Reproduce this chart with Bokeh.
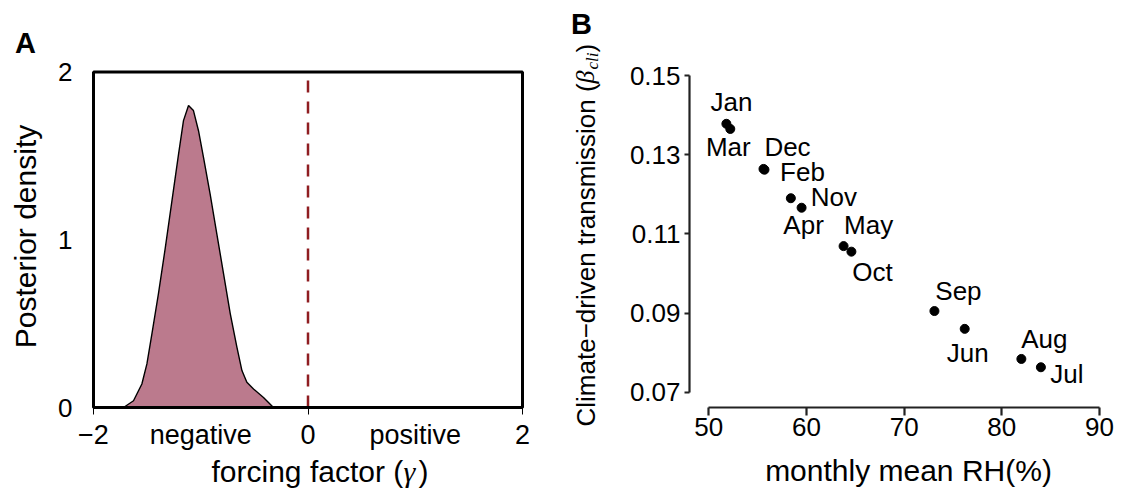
import math
from bokeh.plotting import figure
from bokeh.models import FixedTicker, Label, ColumnDataSource, LinearAxis, BoxAnnotation
from bokeh.layouts import row
from bokeh.embed import file_html
from bokeh.resources import INLINE
from bokeh.core.properties import value

# ---------------- data: panel A (posterior density of forcing factor) ----------------
gamma_x = [-1.72, -1.627, -1.549, -1.502, -1.455, -1.394, -1.331, -1.269, -1.207,
           -1.161, -1.114, -1.068, -1.021, -0.974, -0.912, -0.849, -0.788, -0.725,
           -0.663, -0.616, -0.570, -0.508, -0.415, -0.322]
density = [0.0, 0.04, 0.14, 0.26, 0.44, 0.68, 0.95, 1.23, 1.51, 1.71, 1.80, 1.77,
           1.65, 1.49, 1.27, 1.03, 0.80, 0.56, 0.36, 0.22, 0.15, 0.11, 0.06, 0.0]
a_xticks = [-2, -1, 0, 1, 2]
a_xlabels = ["\u22122", "negative", "0", "positive", "2"]
a_yticks = [0, 1, 2]
a_xlim = (-2, 2)
a_ylim = (0, 2)
ref_gamma = 0

# ---------------- data: panel B (transmission vs humidity) ----------------
months = ["Jan", "Feb", "Mar", "Apr", "May", "Jun", "Jul", "Aug", "Sep", "Oct", "Nov", "Dec"]
rh = [51.8, 55.7, 52.2, 59.5, 63.8, 76.2, 84.0, 82.0, 73.1, 64.6, 58.4, 55.6]
beta = [0.1378, 0.1262, 0.1365, 0.1166, 0.1069, 0.0860, 0.0763, 0.0784, 0.0905,
        0.1055, 0.1190, 0.1264]
b_xticks = [50, 60, 70, 80, 90]
b_yticks = [0.07, 0.09, 0.11, 0.13, 0.15]

# ---------------- layout / style constants ----------------
FONT = "Liberation Sans"
SERIF = "Liberation Serif"
H = 489
WA, WB = 568, 552
label_dx = {"Jan": 5, "Feb": 38, "Mar": -2, "Apr": 2, "May": 25, "Jun": 3,
            "Jul": 26, "Aug": 23, "Sep": 24, "Oct": 21, "Nov": 43, "Dec": 24}
label_dy = {"Jan": -22, "Feb": 2, "Mar": 18, "Apr": 17, "May": -21, "Jun": 24,
            "Jul": 7, "Aug": -20, "Sep": -20, "Oct": 20, "Nov": -1, "Dec": -22}

# panel A: pixel geometry of the box (canvas px)
A_L, A_R, A_T, A_B = 93.0, 522.0, 71.5, 407.0
A_SX = (A_R - A_L) / (a_xlim[1] - a_xlim[0])
A_SY = (A_B - A_T) / (a_ylim[1] - a_ylim[0])
# panel B: pixel geometry (relative to panel B's own canvas starting at WA)
B_X50, B_X90 = 708.3 - WA, 1099.0 - WA
B_Y15, B_Y07 = 75.0, 391.7
B_SX = (B_X90 - B_X50) / 40.0
B_SY = (B_Y07 - B_Y15) / 0.08

def ax(px):
    return a_xlim[0] + (px - A_L) / A_SX

def ay(py):
    return a_ylim[0] + (A_B - py) / A_SY

def bx(px):  # px given in full-page coordinates
    return 50 + (px - WA - B_X50) / B_SX

def by(py):
    return 0.15 - (py - B_Y15) / B_SY

def txt(p, x, y, text, size, font=FONT, style="normal", align="center", angle=0.0):
    p.add_layout(Label(x=x, y=y, text=text, text_font=font, text_font_style=style,
                       text_font_size=size, text_align=align, text_baseline="middle",
                       angle=angle, text_color="black"))

# ================= Panel A =================
pA = figure(width=WA, height=H, x_range=(ax(0), ax(WA)), y_range=(ay(H), ay(0)),
            output_backend="svg", toolbar_location=None, title=None,
            x_axis_location=None, y_axis_location=None, min_border=0)
pA.grid.visible = False
pA.outline_line_color = None
pA.background_fill_color = "white"
pA.border_fill_color = "white"

srcA = ColumnDataSource(dict(x=gamma_x, y=density, z=[0.0] * len(density)))
pA.varea(x="x", y1="z", y2="y", source=srcA, fill_color="#BB7A8D", fill_alpha=1.0)
pA.line(x="x", y="y", source=srcA, line_color="black", line_width=1.4)
pA.segment(x0=[ref_gamma], y0=[a_ylim[0]], x1=[ref_gamma], y1=[a_ylim[1]],
           line_color="#8F1D21", line_width=2.5, line_dash="12 9")
pA.add_layout(BoxAnnotation(left=a_xlim[0], right=a_xlim[1], bottom=a_ylim[0], top=a_ylim[1],
                            fill_alpha=0, line_color="black", line_width=3, line_alpha=1))

xa = LinearAxis(fixed_location=a_ylim[0])
xa.ticker = FixedTicker(ticks=a_xticks, minor_ticks=[-2, 0, 2])
xa.major_label_overrides = {t: l for t, l in zip(a_xticks, a_xlabels)}
xa.axis_line_color = None
xa.major_tick_line_color = None
xa.major_tick_in = 0
xa.major_tick_out = 0
xa.minor_tick_in = 0
xa.minor_tick_out = 7
xa.minor_tick_line_color = "black"
xa.minor_tick_line_width = 1
xa.major_label_standoff = 5
xa.major_label_text_font = FONT
xa.major_label_text_font_size = "27px"
xa.major_label_text_color = "black"
pA.add_layout(xa, "below")

ya = LinearAxis(fixed_location=a_xlim[0])
ya.ticker = FixedTicker(ticks=a_yticks)
ya.axis_line_color = None
ya.major_tick_line_color = None
ya.minor_tick_line_color = None
ya.major_tick_in = 0
ya.major_tick_out = 0
ya.major_label_standoff = 21
ya.major_label_text_font = FONT
ya.major_label_text_font_size = "26px"
ya.major_label_text_color = "black"
pA.add_layout(ya, "left")

txt(pA, ax(25), ay(42), "A", "29px", style="bold")
txt(pA, ax(25), ay(236), "Posterior density", "30px", angle=math.pi / 2)
txt(pA, ax(211), ay(471), "forcing factor (", "30px", align="left")
txt(pA, ax(403), ay(471), "\u03b3", "30px", font=SERIF, style="italic", align="left")
txt(pA, ax(418), ay(471), ")", "30px", align="left")

# ================= Panel B =================
pB = figure(width=WB, height=H, x_range=(bx(WA), bx(WA + WB)), y_range=(by(H), by(0)),
            output_backend="svg", toolbar_location=None, title=None,
            x_axis_location=None, y_axis_location=None, min_border=0)
pB.grid.visible = False
pB.outline_line_color = None
pB.background_fill_color = "white"
pB.border_fill_color = "white"

srcB = ColumnDataSource(dict(x=rh, y=beta, m=months,
                             dx=[label_dx[m] for m in months],
                             dy=[label_dy[m] for m in months]))
pB.scatter(x="x", y="y", source=srcB, size=9, fill_color="black", line_color="black")
pB.text(x="x", y="y", text="m", source=srcB, x_offset="dx", y_offset="dy",
        text_font=value(FONT), text_font_size="26px", text_align="center",
        text_baseline="middle", text_color="black")

xb = LinearAxis(fixed_location=by(406.7))
xb.ticker = FixedTicker(ticks=b_xticks)
xb.bounds = (b_xticks[0], b_xticks[-1])
xb.axis_line_color = "#222222"
xb.axis_line_width = 2.2
xb.major_tick_line_color = "#222222"
xb.major_tick_line_width = 2.2
xb.major_tick_in = 0
xb.major_tick_out = 8
xb.minor_tick_line_color = None
xb.major_label_standoff = 3
xb.major_label_text_font = FONT
xb.major_label_text_font_size = "26px"
xb.major_label_text_color = "black"
pB.add_layout(xb, "below")

yb = LinearAxis(fixed_location=bx(689))
yb.ticker = FixedTicker(ticks=b_yticks)
yb.bounds = (b_yticks[0], b_yticks[-1])
yb.axis_line_color = "#222222"
yb.axis_line_width = 2.2
yb.major_tick_line_color = "#222222"
yb.major_tick_line_width = 2.2
yb.major_tick_in = 0
yb.major_tick_out = 5
yb.minor_tick_line_color = None
yb.major_label_standoff = 4
yb.major_label_text_font = FONT
yb.major_label_text_font_size = "26px"
yb.major_label_text_color = "black"
pB.add_layout(yb, "left")

txt(pB, bx(581), by(23), "B", "29px", style="bold")
txt(pB, bx(908), by(470), "monthly mean RH(%)", "30px")
ylab_x = bx(585)
txt(pB, ylab_x, by(426), "Climate\u2212driven transmission (", "26px", align="left", angle=math.pi / 2)
txt(pB, ylab_x, by(83), "\u03b2", "26px", font=SERIF, style="italic", align="left", angle=math.pi / 2)
txt(pB, bx(592), by(69), "cli", "17px", font=SERIF, style="italic", align="left", angle=math.pi / 2)
txt(pB, ylab_x, by(52), ")", "26px", align="left", angle=math.pi / 2)

layout = row(pA, pB)
open("out.html", "w").write(file_html(layout, INLINE))
